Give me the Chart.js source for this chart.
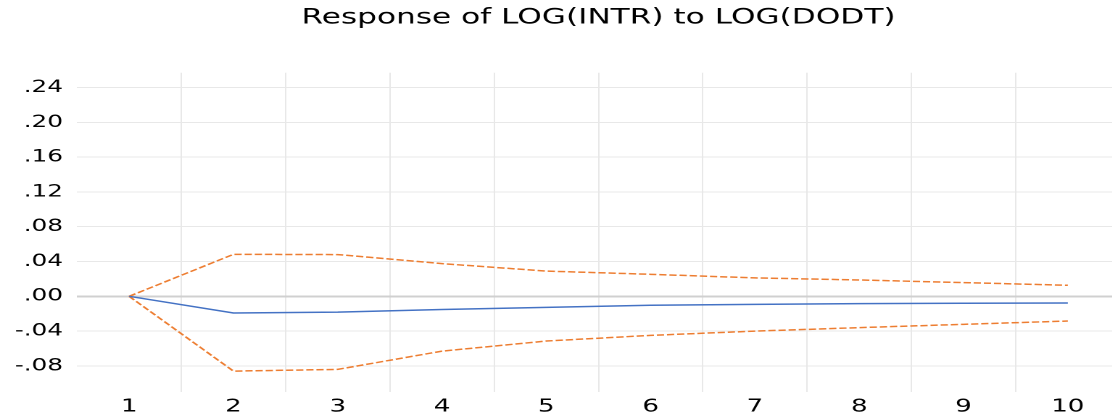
<!DOCTYPE html>
<html>
<head>
<meta charset="utf-8">
<script src="https://cdn.jsdelivr.net/npm/chart.js@4"></script>
<style>
  html, body { margin: 0; padding: 0; background: #fff; overflow: hidden; }
  /* the reference image is stretched sideways, so draw narrow and widen */
  #wrap { width: 828px; height: 417px; transform: scaleX(1.45); transform-origin: 0 0; }
</style>
</head>
<body>
<div id="wrap"><canvas id="irf"></canvas></div>
<script>
// Impulse response data
const periods = ['1', '2', '3', '4', '5', '6', '7', '8', '9', '10'];
const response = [0, -0.0192, -0.0182, -0.0152, -0.0127, -0.0103, -0.0092, -0.0084, -0.0080, -0.0077];
const upperBand = [0, 0.0483, 0.0480, 0.0376, 0.0290, 0.0253, 0.0212, 0.0188, 0.0158, 0.0127];
const lowerBand = [0, -0.0860, -0.0840, -0.0630, -0.0514, -0.0449, -0.0400, -0.0360, -0.0322, -0.0284];
const yTicks = [-0.08, -0.04, 0, 0.04, 0.08, 0.12, 0.16, 0.20, 0.24];

const fontFamily = '"DejaVu Sans", Verdana, sans-serif';

const ctx = document.getElementById('irf').getContext('2d');
const chart = new Chart(ctx, {
    type: 'line',
    data: {
        labels: periods,
        datasets: [
            {
                label: 'Response',
                data: response,
                borderColor: '#4472C4',
                borderWidth: 1.5,
                pointRadius: 0,
                tension: 0
            },
            {
                label: 'Upper',
                data: upperBand,
                borderColor: '#ED7D31',
                borderWidth: 1.5,
                borderDash: [5, 2],
                pointRadius: 0,
                tension: 0
            },
            {
                label: 'Lower',
                data: lowerBand,
                borderColor: '#ED7D31',
                borderWidth: 1.5,
                borderDash: [5, 2],
                pointRadius: 0,
                tension: 0
            }
        ]
    },
    options: {
        responsive: true,
        maintainAspectRatio: false,
        animation: false,
        devicePixelRatio: 2,
        layout: { padding: { left: 0, right: 2.5, top: 0, bottom: 0 } },
        plugins: {
            legend: { display: false },
            tooltip: { enabled: false },
            title: {
                display: true,
                text: 'Response of LOG(INTR) to LOG(DODT)',
                color: '#000',
                font: { family: fontFamily, size: 21.5, weight: 'normal' },
                padding: { top: 5, bottom: 42 }
            }
        },
        scales: {
            x: {
                offset: true,
                grid: {
                    offset: true,
                    drawTicks: false,
                    color: (c) => c.index === 0 ? 'rgba(0,0,0,0)' : '#e8e8e8'
                },
                border: { display: false },
                ticks: {
                    color: '#000',
                    font: { family: fontFamily, size: 18 },
                    padding: 4,
                    maxRotation: 0
                },
                afterFit: (s) => { s.height = 25; }
            },
            y: {
                min: -0.11,
                max: 0.257,
                afterBuildTicks: (axis) => {
                    axis.ticks = yTicks.map(v => ({ value: v }));
                },
                grid: {
                    drawTicks: false,
                    color: (c) => c.tick && Math.abs(c.tick.value) < 1e-9 ? '#d0d0d0' : '#e8e8e8',
                    lineWidth: (c) => c.tick && Math.abs(c.tick.value) < 1e-9 ? 2 : 1
                },
                border: { display: false },
                ticks: {
                    color: '#000',
                    font: { family: fontFamily, size: 17 },
                    padding: 9.7,
                    callback: (v) => Number(v).toFixed(2).replace('0.', '.')
                },
                afterFit: (s) => { s.width = 53.1; }
            },
            // empty right axis so the title sits over the middle of the plot
            yRight: {
                position: 'right',
                min: -0.11,
                max: 0.257,
                grid: { display: false },
                border: { display: false },
                ticks: { display: false },
                afterFit: (s) => { s.width = 53.1; }
            }
        }
    }
});
</script>
</body>
</html>
